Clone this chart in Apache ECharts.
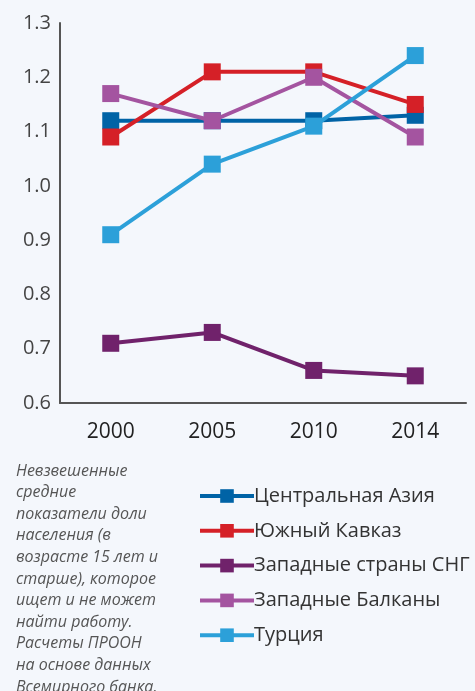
<!DOCTYPE html>
<html>
<head>
<meta charset="utf-8">
<script src="https://cdn.jsdelivr.net/npm/echarts@6/dist/echarts.min.js"></script>
<style>
  html, body { margin: 0; padding: 0; background: #f4f7fc; }
  #chart { width: 475px; height: 691px; }
</style>
</head>
<body>
<div id="chart"></div>
<script>
// Years on the horizontal axis
const years = ['2000', '2005', '2010', '2014'];

// Ratio values per region
const centralAsia   = [1.12, 1.12, 1.12, 1.13];
const southCaucasus = [1.09, 1.21, 1.21, 1.15];
const westernCIS    = [0.71, 0.73, 0.66, 0.65];
const westernBalkans = [1.17, 1.12, 1.20, 1.09];
const turkey        = [0.91, 1.04, 1.11, 1.24];

const seriesNames = ['Центральная Азия', 'Южный Кавказ', 'Западные страны СНГ', 'Западные Балканы', 'Турция'];
const seriesColors = ['#0063a6', '#d52027', '#70226b', '#a454a0', '#2ca0d9'];
const seriesData = [centralAsia, southCaucasus, westernCIS, westernBalkans, turkey];

// Footnote lines
const noteLines = [
  'Невзвешенные',
  'средние',
  'показатели доли',
  'населения (в',
  'возрасте 15 лет и',
  'старше), которое',
  'ищет и не может',
  'найти работу.',
  'Расчеты ПРООН',
  'на основе данных',
  'Всемирного банка.'
];

const FONT = '"Open Sans", "Noto Sans", sans-serif';
const chart = echarts.init(document.getElementById('chart'));

chart.setOption({
  backgroundColor: '#f4f7fc',
  animation: false,
  grid: { left: 60, right: 9, top: 23, bottom: 288 },
  xAxis: {
    type: 'category',
    data: years,
    boundaryGap: true,
    axisLine: { show: true, lineStyle: { color: '#555', width: 2 } },
    axisTick: { show: false },
    axisLabel: { color: '#222', fontSize: 21, fontFamily: FONT, margin: 19 }
  },
  yAxis: {
    type: 'value',
    min: 0.6,
    max: 1.3,
    interval: 0.1,
    axisLine: { show: true, lineStyle: { color: '#555', width: 2 } },
    axisTick: { show: false },
    splitLine: { show: false },
    axisLabel: {
      color: '#444', fontSize: 20, fontFamily: FONT, margin: 9,
      formatter: v => v.toFixed(1)
    }
  },
  legend: {
    orient: 'vertical',
    left: 193,
    top: 481,
    itemWidth: 54,
    itemHeight: 17,
    itemGap: 14.8,
    lineStyle: { width: 4 },
    textStyle: { color: '#333', fontSize: 20, fontFamily: FONT, padding: [0, 0, 0, -5] },
    data: seriesNames
  },
  series: seriesData.map((d, i) => ({
    name: seriesNames[i],
    type: 'line',
    data: d,
    symbol: 'rect',
    symbolSize: 17,
    color: seriesColors[i],
    lineStyle: { width: 4, color: seriesColors[i] },
    itemStyle: { color: seriesColors[i] },
    z: 2 + i
  })),
  graphic: noteLines.map((t, i) => ({
    type: 'text',
    left: 16,
    top: 463 + i * 21.6,
    style: {
      text: t,
      fill: '#555',
      font: 'italic 16px ' + FONT
    }
  }))
});
</script>
</body>
</html>
